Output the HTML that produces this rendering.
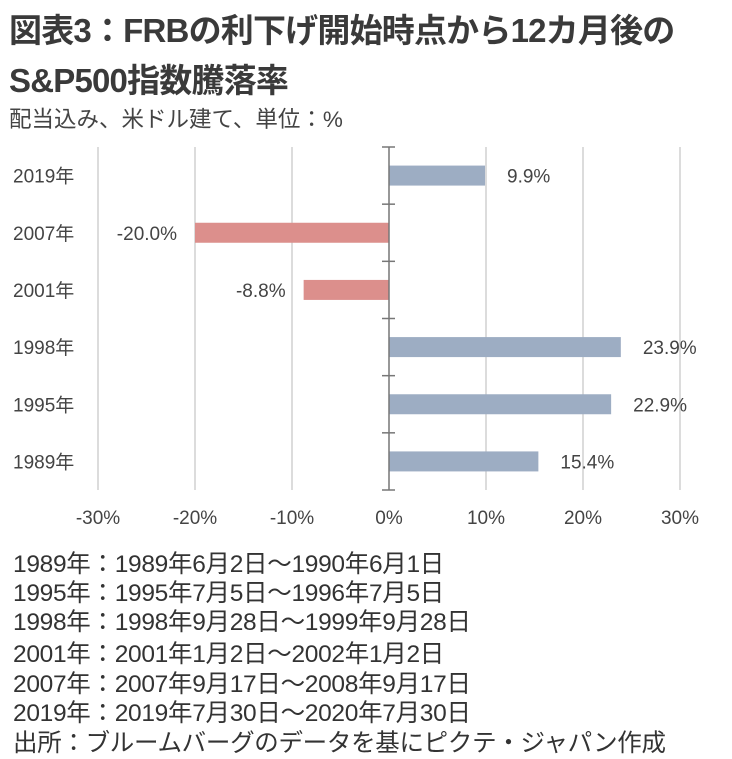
<!DOCTYPE html>
<html><head><meta charset="utf-8">
<style>
body{margin:0;background:#fff;width:732px;height:759px;overflow:hidden;font-family:"Liberation Sans","Noto Sans CJK JP",sans-serif;color:#333}
.t{position:absolute;left:9px;font-size:33px;font-weight:bold;color:#3a3a3a;white-space:nowrap;letter-spacing:-0.8px}
.s{position:absolute;left:9px;top:102px;font-size:22.5px;color:#444;white-space:nowrap}
.f{position:absolute;left:13px;font-size:24.5px;color:#333;white-space:nowrap;letter-spacing:-0.3px}
svg{position:absolute;left:0;top:0}
</style></head><body>
<div class="t" style="top:4px">図表3：FRBの利下げ開始時点から12カ月後の</div>
<div class="t" style="top:54px">S&amp;P500指数騰落率</div>
<div class="s">配当込み、米ドル建て、単位：%</div>
<svg id="chart" width="732" height="540"></svg>
<div class="f" style="top:545px">1989年：1989年6月2日～1990年6月1日</div>
<div class="f" style="top:574px">1995年：1995年7月5日～1996年7月5日</div>
<div class="f" style="top:603px">1998年：1998年9月28日～1999年9月28日</div>
<div class="f" style="top:635px">2001年：2001年1月2日～2002年1月2日</div>
<div class="f" style="top:665px">2007年：2007年9月17日～2008年9月17日</div>
<div class="f" style="top:694px">2019年：2019年7月30日～2020年7月30日</div>
<div class="f" style="top:724px">出所：ブルームバーグのデータを基にピクテ・ジャパン作成</div>
<script>
const categories=["2019年","2007年","2001年","1998年","1995年","1989年"];
const values=[9.9,-20.0,-8.8,23.9,22.9,15.4];
const ticks=[-30,-20,-10,0,10,20,30];
const tickLabels=["-30%","-20%","-10%","0%","10%","20%","30%"];
const svgEl=document.getElementById('chart');
const NS="http://www.w3.org/2000/svg";
const x0=389,pxPer=9.7,yTop=147,yBottom=490;
const band=(yBottom-yTop)/categories.length;
function xs(v){return x0+v*pxPer;}
function yc(i){return yTop+band*(i+0.5);}
function mk(t,a){const e=document.createElementNS(NS,t);for(const k in a)e.setAttribute(k,a[k]);svgEl.appendChild(e);return e;}
ticks.forEach((t,i)=>{
 if(t!==0){const g=mk('line',{x1:xs(t),x2:xs(t),y1:yTop,y2:yBottom,stroke:'#dcdcdc','stroke-width':2});
 
 }
 const l=mk('text',{x:xs(t),y:524,'text-anchor':'middle','font-size':19,fill:'#444'});
 l.textContent=tickLabels[i];
 
 
});
categories.forEach((c,i)=>{
 const v=values[i];
 const x=Math.min(xs(0),xs(v)),w=Math.abs(xs(v)-xs(0));
 const r=mk('rect',{x:x,y:yc(i)-10,width:w,height:20,fill:v<0?'#dc8f8c':'#9dadc3'});
 
 
 const lb=mk('text',{x:v<0?xs(v)-18:xs(v)+22,y:yc(i)+7,'text-anchor':v<0?'end':'start','font-size':19,fill:'#444'});
 lb.textContent=v.toFixed(1)+'%';
 
 
 const cl=mk('text',{x:13,y:yc(i)+7,'font-size':19,fill:'#444'});
 cl.textContent=c;
 
 
});
const ax=mk('line',{x1:x0,x2:x0,y1:yTop,y2:yBottom,stroke:'#777','stroke-width':1.5});


for(let i=0;i<=categories.length;i++){
 const tk=mk('line',{x1:x0-7,x2:x0+6,y1:yTop+band*i,y2:yTop+band*i,stroke:'#777','stroke-width':1.5});
 
 
}
</script>
</body></html>
